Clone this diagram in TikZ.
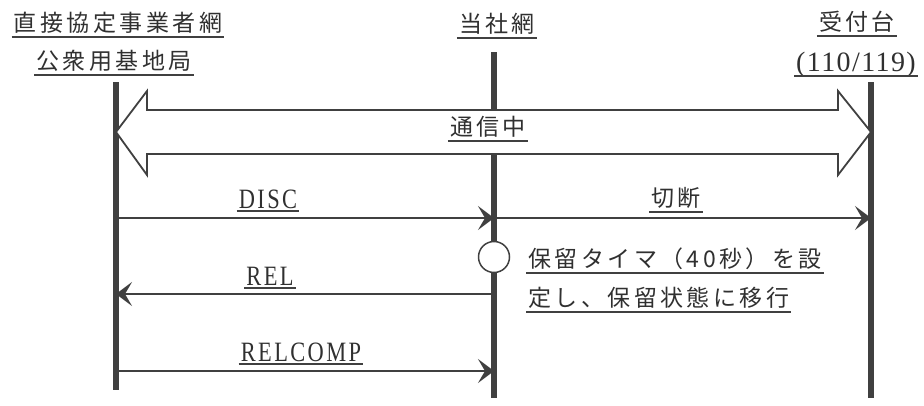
\documentclass[tikz,border=0pt]{standalone}
\usepackage{fontspec}
\usetikzlibrary{arrows.meta}
\newfontfamily\jpfont[LetterSpace=15]{Noto Sans CJK JP}
\newfontfamily\latfont[FakeStretch=0.8,LetterSpace=8.6]{Liberation Serif}
\newfontfamily\numfont[LetterSpace=5]{Liberation Serif}
\definecolor{ink}{HTML}{404040}
\definecolor{txt}{HTML}{303030}
\tikzset{
  lifeline/.style={draw=ink, line width=5.5pt},
  msg/.style={draw=ink, line width=1.8pt, -{Stealth[length=16pt,width=24pt,inset=7pt]}},
  fat/.style={draw=ink, line width=1.8pt, fill=white, line join=miter},
  ul/.style={append after command={(\tikzlastnode.south west) edge[draw=ink, line width=1.8pt] (\tikzlastnode.south east)}},
  jp/.style={font=\jpfont\fontsize{23}{26}\selectfont, text=txt, inner xsep=2pt, inner ysep=0pt, text height=19pt, text depth=5pt, anchor=south, ul},
  lat/.style={font=\latfont\fontsize{28}{30}\selectfont, text=txt, inner xsep=2pt, inner ysep=0pt, text height=19pt, text depth=2pt, anchor=south, ul},
  num/.style={font=\numfont\fontsize{28}{30}\selectfont, text=txt, inner xsep=2pt, inner ysep=0pt, text height=19pt, text depth=4pt, anchor=south, ul},
  timer/.style={draw=ink, line width=1.5pt, fill=white, circle, minimum size=31pt, inner sep=0pt}
}
\begin{document}
\begin{tikzpicture}[x=1pt,y=-1pt]
\useasboundingbox (0,0) rectangle (924,405);
% headers
\node[jp] (h1) at (118,37) {直接協定事業者網};
\node[jp] (h2) at (114,75) {公衆用基地局};
\node[jp] (h3) at (497,38) {当社網};
\node[jp] (h4) at (857,36) {受付台};
\node[num] (h5) at (856,76) {(110/119)};
% lifelines
\coordinate (Lt) at (116,82);  \coordinate (Lb) at (116,390);
\coordinate (Mt) at (494,52);  \coordinate (Mb) at (494,398);
\coordinate (Rt) at (871,82);  \coordinate (Rb) at (871,398);
\draw[lifeline] (Lt) -- (Lb);
\draw[lifeline] (Mt) -- (Mb);
\draw[lifeline] (Rt) -- (Rb);
% fat double arrow
\draw[fat] (116,132) -- (147,91) -- (147,110) -- (838,110) -- (838,91) -- (871,132)
  -- (838,175) -- (838,154) -- (147,154) -- (147,175) -- cycle;
\node[jp] (talk) at (488,141) {通信中};
% messages
\coordinate (d1) at (116,218); \coordinate (d2) at (494,218); \coordinate (d3) at (871,218);
\coordinate (r1) at (494,294); \coordinate (r2) at (116,294);
\coordinate (c1) at (116,371); \coordinate (c2) at (494,371);
\draw[msg] (d1) -- (d2);
\draw[msg] (d2) -- (d3);
\draw[msg] (r1) -- (r2);
\draw[msg] (c1) -- (c2);
\node[lat] (disc) at (268,211) {DISC};
\node[jp] (cut) at (676,212) {切断};
\node[lat] (rel) at (270,288) {REL};
\node[lat] (rlc) at (301,364) {RELCOMP};
% timer
\node[timer] (tm) at (494,257) {};
\node[jp, anchor=south west] (t1) at (526,273) {保留タイマ（40秒）を設};
\node[jp, anchor=south west] (t2) at (526,312) {定し、保留状態に移行};
\end{tikzpicture}
\end{document}
